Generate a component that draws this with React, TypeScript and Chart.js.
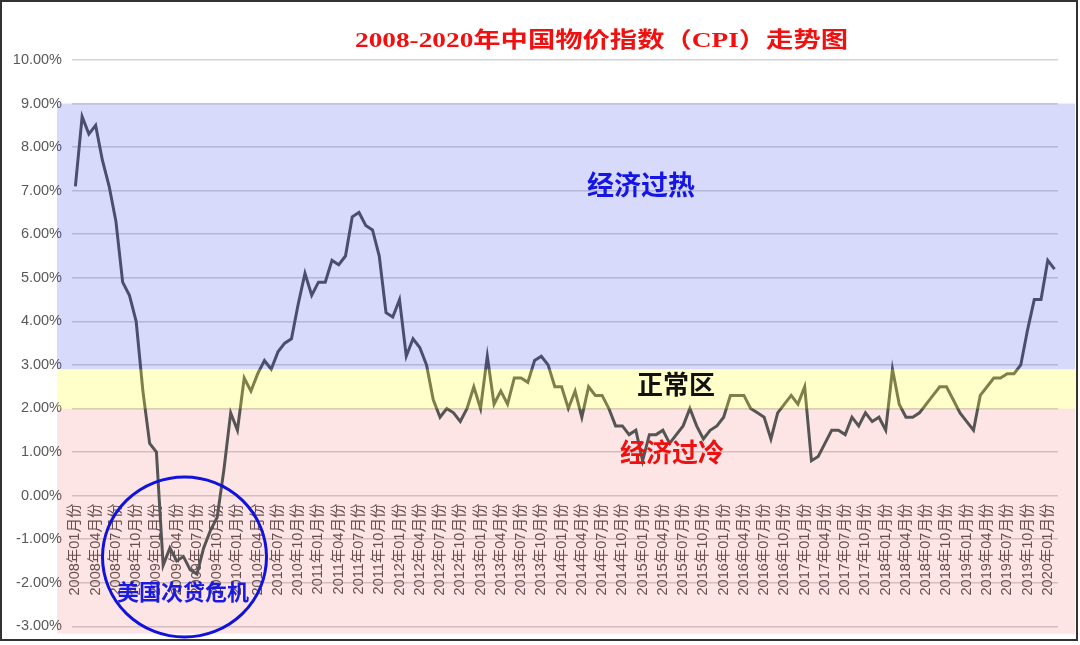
import React, { useEffect, useRef } from "react";
import { Chart, registerables } from "chart.js";

Chart.register(...registerables);

// ---------------- data ----------------
const YEARS = ["2008", "2009", "2010", "2011", "2012", "2013", "2014", "2015", "2016", "2017", "2018", "2019", "2020"];
const MONTHS = ["01", "02", "03", "04", "05", "06", "07", "08", "09", "10", "11", "12"];

const CPI_2008 = [7.1, 8.7, 8.3, 8.5, 7.7, 7.1, 6.3, 4.9, 4.6, 4.0, 2.4, 1.2];
const CPI_2009 = [1.0, -1.6, -1.2, -1.5, -1.4, -1.7, -1.8, -1.2, -0.8, -0.5, 0.6, 1.9];
const CPI_2010 = [1.5, 2.7, 2.4, 2.8, 3.1, 2.9, 3.3, 3.5, 3.6, 4.4, 5.1, 4.6];
const CPI_2011 = [4.9, 4.9, 5.4, 5.3, 5.5, 6.4, 6.5, 6.2, 6.1, 5.5, 4.2, 4.1];
const CPI_2012 = [4.5, 3.2, 3.6, 3.4, 3.0, 2.2, 1.8, 2.0, 1.9, 1.7, 2.0, 2.5];
const CPI_2013 = [2.0, 3.2, 2.1, 2.4, 2.1, 2.7, 2.7, 2.6, 3.1, 3.2, 3.0, 2.5];
const CPI_2014 = [2.5, 2.0, 2.4, 1.8, 2.5, 2.3, 2.3, 2.0, 1.6, 1.6, 1.4, 1.5];
const CPI_2015 = [0.8, 1.4, 1.4, 1.5, 1.2, 1.4, 1.6, 2.0, 1.6, 1.3, 1.5, 1.6];
const CPI_2016 = [1.8, 2.3, 2.3, 2.3, 2.0, 1.9, 1.8, 1.3, 1.9, 2.1, 2.3, 2.1];
const CPI_2017 = [2.5, 0.8, 0.9, 1.2, 1.5, 1.5, 1.4, 1.8, 1.6, 1.9, 1.7, 1.8];
const CPI_2018 = [1.5, 2.9, 2.1, 1.8, 1.8, 1.9, 2.1, 2.3, 2.5, 2.5, 2.2, 1.9];
const CPI_2019 = [1.7, 1.5, 2.3, 2.5, 2.7, 2.7, 2.8, 2.8, 3.0, 3.8, 4.5, 4.5];
const CPI_2020 = [5.4, 5.2];

const CPI_VALUES = [
  ...CPI_2008, ...CPI_2009, ...CPI_2010, ...CPI_2011, ...CPI_2012, ...CPI_2013, ...CPI_2014,
  ...CPI_2015, ...CPI_2016, ...CPI_2017, ...CPI_2018, ...CPI_2019, ...CPI_2020,
];

const CATEGORIES = YEARS.flatMap((y) => MONTHS.map((m) => `${y}年${m}月份`)).slice(0, CPI_VALUES.length);

const Y_MIN = -3;
const Y_MAX = 10;
const Y_STEP = 1;
const LABEL_EVERY = 3;

// zone limits (percent)
const ZONE_HOT = [2.9, 9.0];
const ZONE_NORMAL = [2.0, 2.9];
const ZONE_COLD = [-3.17, 2.0];

const TITLE = "2008-2020年中国物价指数（CPI）走势图";
const TEXT_HOT = "经济过热";
const TEXT_NORMAL = "正常区";
const TEXT_COLD = "经济过冷";
const TEXT_CRISIS = "美国次贷危机";

const SANS = '"Liberation Sans", Arial, "Noto Sans CJK SC", sans-serif';
const CJK_BOLD = '"Noto Sans CJK SC", "Liberation Sans", sans-serif';

function fillZone(chart: any, zone: number[], color: string) {
  const { ctx, chartArea } = chart;
  const y = chart.scales.y;
  const left = chartArea.left - 15;
  const right = chart.width - 5;
  const top = y.getPixelForValue(zone[1]);
  const bottom = y.getPixelForValue(zone[0]);
  ctx.save();
  ctx.fillStyle = color;
  ctx.fillRect(left, top, right - left, bottom - top);
  ctx.restore();
}

const zonesPlugin = {
  id: "zones",
  beforeDatasetsDraw(chart: any) {
    fillZone(chart, ZONE_COLD, "rgba(240,0,10,0.10)");
  },
  afterDatasetsDraw(chart: any) {
    fillZone(chart, ZONE_HOT, "rgba(40,50,240,0.18)");
    fillZone(chart, ZONE_NORMAL, "rgba(255,255,40,0.25)");
  },
};

const annotationsPlugin = {
  id: "annotations",
  afterDraw(chart: any) {
    const { ctx } = chart;
    ctx.save();
    ctx.textAlign = "center";
    ctx.textBaseline = "middle";

    // title (stretched horizontally like the original)
    ctx.font = `bold 22px "Liberation Serif", "Noto Sans CJK SC", serif`;
    const w = ctx.measureText(TITLE).width;
    ctx.save();
    ctx.translate(601.5, 41);
    ctx.scale(493 / w, 1);
    ctx.fillStyle = "#f01010";
    ctx.fillText(TITLE, 0, 0);
    ctx.restore();

    ctx.font = `bold 27px ${CJK_BOLD}`;
    ctx.fillStyle = "#1515e6";
    ctx.fillText(TEXT_HOT, 641, 185);

    ctx.font = `bold 26px ${CJK_BOLD}`;
    ctx.fillStyle = "#111111";
    ctx.fillText(TEXT_NORMAL, 676, 384);

    ctx.font = `bold 26px ${CJK_BOLD}`;
    ctx.fillStyle = "#ee1111";
    ctx.fillText(TEXT_COLD, 672, 452);

    ctx.font = `bold 22px ${CJK_BOLD}`;
    ctx.fillStyle = "#1a1ae0";
    ctx.fillText(TEXT_CRISIS, 183, 592);

    ctx.beginPath();
    ctx.ellipse(184.5, 557, 82, 80, 0, 0, Math.PI * 2);
    ctx.lineWidth = 3;
    ctx.strokeStyle = "#1212dd";
    ctx.stroke();

    // outer frame
    ctx.lineWidth = 2;
    ctx.strokeStyle = "#333333";
    ctx.strokeRect(1, 1, 1076, 639);
    ctx.restore();
  },
};

export default function App() {
  const canvasRef = useRef<HTMLCanvasElement | null>(null);

  useEffect(() => {
    if (!canvasRef.current) return;
    const chart = new Chart(canvasRef.current, {
      type: "line",
      data: {
        labels: CATEGORIES,
        datasets: [
          {
            label: "CPI",
            data: CPI_VALUES,
            borderColor: "#555555",
            borderWidth: 3,
            pointRadius: 0,
            tension: 0,
            fill: false,
          },
        ],
      },
      options: {
        animation: false,
        responsive: false,
        devicePixelRatio: 1,
        layout: { padding: { left: 13, right: 18, top: 60, bottom: 17 } },
        plugins: {
          legend: { display: false },
          title: { display: false },
          tooltip: { enabled: false },
        },
        scales: {
          x: {
            type: "category",
            position: { y: 0 } as any,
            offset: true,
            grid: { display: false, drawTicks: false },
            border: { display: false },
            ticks: {
              autoSkip: false,
              minRotation: 90,
              maxRotation: 90,
              padding: 8,
              color: "#595959",
              font: { family: SANS, size: 14.5 },
              callback: (_v: any, i: number) => (i % LABEL_EVERY === 0 ? CATEGORIES[i] : ""),
            },
          },
          y: {
            min: Y_MIN,
            max: Y_MAX,
            afterFit: (scale: any) => {
              scale.width = 59;
            },
            grid: { color: "#d3d3d3", lineWidth: 1.5, drawTicks: false },
            border: { display: false },
            ticks: {
              stepSize: Y_STEP,
              padding: 10,
              color: "#595959",
              font: { family: SANS, size: 14.5 },
              callback: (v: any) => `${Number(v).toFixed(2)}%`,
            },
          },
        },
      },
      plugins: [zonesPlugin, annotationsPlugin],
    });
    return () => chart.destroy();
  }, []);

  return (
    <div style={{ position: "absolute", left: 0, top: 0, width: 1080, height: 645, background: "#ffffff" }}>
      <canvas ref={canvasRef} width={1080} height={645} style={{ width: 1080, height: 645, display: "block" }} />
    </div>
  );
}
